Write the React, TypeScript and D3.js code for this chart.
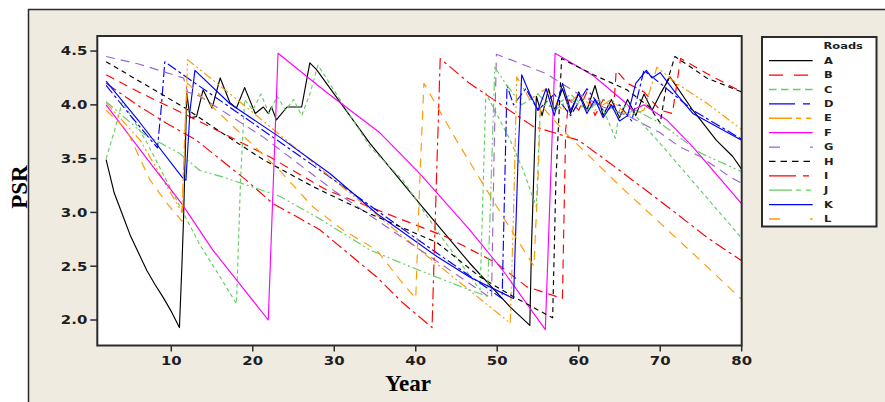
import { useEffect, useRef } from "react";
import * as d3 from "d3";

type Pt = [number, number];

// road names shown in the legend
const roadNames = ["A", "B", "C", "D", "E", "F", "G", "H", "I", "J", "K", "L"];

// [year, PSR]
const roadA: Pt[] = [[2, 3.49], [3, 3.18], [4, 2.98], [5, 2.78], [6, 2.62], [7, 2.46], [8, 2.33], [9, 2.21], [10, 2.08], [11, 1.93], [11.3, 2.5], [11.5, 2.93], [11.9, 4.11], [12.3, 3.88], [13.1, 3.89], [13.9, 4.14], [15, 3.97], [16, 4.25], [17.2, 4.02], [18, 3.97], [19, 4.16], [20.3, 3.92], [21.3, 3.98], [21.9, 3.92], [22.3, 3.98], [22.9, 3.86], [24.2, 3.98], [26, 3.98], [27, 4.39], [27.8, 4.33], [30, 4.1], [34.4, 3.64], [40.5, 3.08], [46.6, 2.53], [51.6, 2.12], [54, 1.95], [54.2, 2.68], [54.8, 4.08], [55.5, 3.9], [56.3, 4.15], [57, 3.95], [58, 4.15], [59, 3.92], [60, 4.12], [61, 3.95], [62, 4.18], [63, 3.9], [64, 4.05], [65, 3.88], [66, 4.05], [67, 3.9], [68, 4.1], [69, 3.95], [70, 4.1], [71.2, 4.26], [74, 3.95], [76.9, 3.67], [78.9, 3.52], [80, 3.4]];
const roadB: Pt[] = [[2, 4.28], [6, 4.12], [12, 3.9], [22, 3.52], [29, 3.21], [34.4, 3.05], [43.8, 2.77], [49.9, 2.53], [53.6, 2.31], [58, 2.2], [58.4, 3.77], [58.8, 4.05], [60, 3.95], [61, 4.12], [62, 3.9], [63, 4.05], [64.3, 3.98], [64.6, 4.32], [66, 4.2], [68, 4.12], [70, 3.95], [71.5, 3.92], [72.5, 4.43], [76, 4.28], [80, 4.12]];
const roadC: Pt[] = [[2, 3.5], [3, 3.75], [4, 4.03], [7, 3.65], [11.3, 3.02], [13.5, 2.7], [16, 2.4], [18, 2.15], [18.5, 3.3], [19, 4.05], [20, 3.95], [21, 4.1], [22, 3.92], [23, 4.08], [24, 3.95], [25, 4.05], [26, 3.9], [27, 4.1], [28, 4.37], [34.4, 3.61], [38.4, 3.3], [42.5, 2.84], [47.9, 2.28], [48.3, 3.3], [48.6, 4.11], [51.6, 3.67], [53.2, 3.39], [54.8, 3.05], [55.3, 4.0], [57, 3.98], [59, 4.1], [61, 3.95], [62.5, 4.05], [64.5, 3.69], [65, 3.95], [66, 4.0], [67.5, 3.85], [70, 3.64], [75, 3.2], [80, 2.76]];
const roadD: Pt[] = [[2, 4.18], [5, 3.9], [8.3, 3.6], [8.8, 4.0], [9.2, 4.4], [12, 4.25], [20, 3.83], [30, 3.3], [40, 2.76], [50.6, 2.2], [50.9, 3.2], [51.2, 4.18], [52, 4.0], [53.5, 4.15], [55, 3.95], [57, 4.1], [59, 3.9], [61, 4.15], [63, 3.95], [65, 4.0], [66.5, 3.85], [68, 4.32], [70, 4.2], [74, 3.95], [80, 3.68]];
const roadE: Pt[] = [[2, 4.02], [6.2, 3.67], [11.3, 3.0], [11.6, 3.6], [12, 4.42], [20, 3.93], [30, 3.3], [40, 2.68], [51.6, 1.97], [52, 3.0], [52.4, 4.26], [54, 4.05], [56, 4.15], [58, 3.95], [60, 4.1], [62, 3.95], [64, 4.05], [66, 3.9], [68, 3.95], [69.6, 4.35], [72, 4.2], [76, 4.0], [80, 3.77]];
const roadF: Pt[] = [[2, 4.0], [7.4, 3.46], [11.3, 3.08], [15.1, 2.65], [21.9, 2.0], [23.1, 4.48], [29, 4.12], [35.6, 3.74], [40.5, 3.36], [46.6, 2.84], [50.7, 2.46], [55.9, 1.91], [57.1, 4.48], [61.8, 4.27], [65.9, 4.01], [66.5, 3.95], [68, 4.0], [70.8, 3.86], [74, 3.61], [80, 3.08]];
const roadG: Pt[] = [[2, 4.45], [6, 4.38], [11.5, 4.25], [12, 4.12], [13.5, 4.08], [21.3, 3.7], [30, 3.2], [40, 2.68], [49.3, 2.2], [49.6, 3.5], [49.9, 4.47], [53, 4.38], [56, 4.29], [60, 4.1], [63, 3.98], [66, 3.9], [70, 3.74], [72.4, 3.61], [74.9, 3.52], [78.6, 3.33], [80, 3.27]];
const roadH: Pt[] = [[2, 4.4], [7, 4.18], [11.7, 3.97], [16, 3.75], [21.3, 3.49], [27.4, 3.24], [34, 3.0], [42.6, 2.72], [47.9, 2.4], [51.9, 2.22], [56.8, 2.02], [57.2, 3.3], [57.9, 4.43], [61.8, 4.28], [65.9, 4.14], [68.7, 3.98], [70, 3.83], [70.8, 4.2], [71.8, 4.45], [75.7, 4.25], [80, 4.12]];
const roadI: Pt[] = [[2, 4.2], [6.2, 3.98], [9.4, 3.83], [13.1, 3.67], [19.2, 3.3], [22.5, 3.08], [25.4, 2.96], [28.2, 2.84], [35.2, 2.4], [38.4, 2.16], [42, 1.93], [42.5, 3.2], [43, 4.43], [46.6, 4.2], [50.7, 3.99], [54.4, 3.8], [57, 3.74], [60, 3.67], [63.8, 3.46], [68.7, 3.18], [72, 2.99], [75.7, 2.77], [80, 2.55]];
const roadJ: Pt[] = [[2, 4.03], [6.6, 3.73], [11, 3.55], [13.5, 3.39], [16.3, 3.33], [23.3, 3.15], [28, 2.95], [34.4, 2.65], [40.5, 2.46], [46.6, 2.28], [48.8, 2.22], [49.3, 3.4], [49.7, 4.35], [51, 4.2], [53, 4.0], [55, 4.1], [57, 3.95], [59, 4.05], [61, 3.95], [63, 4.05], [65, 3.9], [67, 3.95], [70, 3.83], [75, 3.55], [80, 3.38]];
const roadK: Pt[] = [[2, 4.22], [6, 3.85], [11.3, 3.33], [11.8, 3.3], [12.3, 3.95], [12.9, 4.32], [17.2, 4.01], [23.3, 3.7], [29.5, 3.36], [35.2, 2.99], [42.6, 2.59], [46.6, 2.4], [52, 2.2], [52.6, 3.6], [53, 4.28], [54, 4.1], [55, 3.95], [56, 4.15], [57, 3.9], [58, 4.2], [59, 3.95], [60, 4.1], [61, 3.92], [62, 4.05], [63, 3.88], [64, 4.0], [65, 3.85], [66, 3.9], [67, 4.2], [68.3, 4.32], [69, 4.25], [70, 4.3], [72, 4.1], [74, 3.92], [80, 3.67]];
const roadL: Pt[] = [[2, 3.95], [4.5, 3.77], [7.4, 3.3], [9.4, 3.09], [11.3, 2.92], [11.7, 3.8], [12, 4.2], [23.3, 3.39], [27.4, 3.05], [31, 2.84], [35.2, 2.65], [38.4, 2.34], [40, 2.2], [40.5, 3.3], [41, 4.2], [45, 3.67], [50.7, 2.96], [54.5, 2.5], [55, 3.3], [55.3, 4.0], [58.5, 3.73], [65, 3.25], [70, 2.9], [75, 2.55], [80, 2.19]];

const roadData = [roadA, roadB, roadC, roadD, roadE, roadF, roadG, roadH, roadI, roadJ, roadK, roadL];

const xTicks = [10, 20, 30, 40, 50, 60, 70, 80];
const yTicks = [2.0, 2.5, 3.0, 3.5, 4.0, 4.5];

const lineColors = ["#000000", "#ff0000", "#66cc66", "#0000ff", "#ff9900", "#ff00ff", "#9966cc", "#000000", "#ff0000", "#66cc66", "#0000ff", "#ff9900"];
const plotDash = ["", "9,6", "4,3", "10,3,3,3", "9,3,2,3,2,3", "", "9,6", "5,4", "12,4,3,4", "9,3,2,3,2,3", "", "9,7"];
const legendDash = ["", "14,11", "7.5,4.5", "26,8,7,8", "23,4,5,5,5,4", "", "11,30,14,11", "6.5,5", "27,7,6,7", "23,4,5,5,5,4", "", "11,30,14,11"];

export default function App() {
  const svgRef = useRef<SVGSVGElement>(null);

  useEffect(() => {
    if (!svgRef.current) return;
    const svg = d3.select(svgRef.current);
    svg.selectAll("*").remove();

    const left = 97.3, right = 741.7, top = 36, bottom = 345.5;
    const x = d3.scaleLinear().domain([0.92, 80]).range([left, right]);
    const y = d3.scaleLinear().domain([1.763, 4.64]).range([bottom, top]);
    const tickFont = "'DejaVu Sans', Verdana, sans-serif";

    // page frame
    svg.append("rect").attr("width", 885).attr("height", 402).attr("fill", "#ffffff");
    svg.append("rect")
      .attr("x", 28.5).attr("y", 9.5).attr("width", 900).attr("height", 400)
      .attr("fill", "#efebe1").attr("stroke", "#2a2a2a").attr("stroke-width", 1.5);

    // plot area
    svg.append("rect")
      .attr("x", left).attr("y", top).attr("width", right - left).attr("height", bottom - top)
      .attr("fill", "#ffffff");

    svg.append("clipPath").attr("id", "plotClip")
      .append("rect").attr("x", left).attr("y", top).attr("width", right - left).attr("height", bottom - top);

    const line = d3.line<Pt>().x((d) => x(d[0])).y((d) => y(d[1]));
    const lines = svg.append("g").attr("clip-path", "url(#plotClip)");
    roadData.forEach((pts, i) => {
      lines.append("path")
        .attr("d", line(pts))
        .attr("fill", "none")
        .attr("stroke", lineColors[i])
        .attr("stroke-width", 1.15)
        .attr("stroke-dasharray", plotDash[i] || null)
        .attr("stroke-linejoin", "round");
    });

    svg.append("rect")
      .attr("x", left).attr("y", top).attr("width", right - left).attr("height", bottom - top)
      .attr("fill", "none").attr("stroke", "#2b2b2b").attr("stroke-width", 2);

    // y axis
    const yAxis = svg.append("g");
    yTicks.forEach((t) => {
      yAxis.append("line")
        .attr("x1", left - 7).attr("x2", left).attr("y1", y(t)).attr("y2", y(t))
        .attr("stroke", "#2b2b2b").attr("stroke-width", 1.5);
      yAxis.append("text")
        .attr("transform", `translate(${left - 10},${y(t) + 4.3}) scale(1.3,1)`)
        .attr("text-anchor", "end")
        .attr("font-family", tickFont).attr("font-weight", "bold").attr("font-size", 11.5)
        .attr("fill", "#1e1e1e")
        .text(t.toFixed(1));
    });

    // x axis
    const xAxis = svg.append("g");
    xTicks.forEach((t) => {
      xAxis.append("line")
        .attr("x1", x(t)).attr("x2", x(t)).attr("y1", bottom).attr("y2", bottom + 6)
        .attr("stroke", "#2b2b2b").attr("stroke-width", 1.5);
      xAxis.append("text")
        .attr("transform", `translate(${x(t)},${bottom + 19.5}) scale(1.3,1)`)
        .attr("text-anchor", "middle")
        .attr("font-family", tickFont).attr("font-weight", "bold").attr("font-size", 11.5)
        .attr("fill", "#1e1e1e")
        .text(t);
    });

    // axis titles
    svg.append("text")
      .attr("transform", "translate(27,187) rotate(-90)")
      .attr("text-anchor", "middle")
      .attr("font-family", "'Liberation Serif', 'Times New Roman', serif")
      .attr("font-weight", "bold").attr("font-size", 23)
      .text("PSR");
    svg.append("text")
      .attr("x", 408).attr("y", 391)
      .attr("text-anchor", "middle")
      .attr("font-family", "'Liberation Serif', 'Times New Roman', serif")
      .attr("font-weight", "bold").attr("font-size", 23)
      .text("Year");

    // legend
    const lg = svg.append("g");
    lg.append("rect")
      .attr("x", 762).attr("y", 37).attr("width", 114.5).attr("height", 189.5)
      .attr("fill", "#ffffff").attr("stroke", "#2b2b2b").attr("stroke-width", 2);
    lg.append("text")
      .attr("transform", "translate(823.5,49) scale(1.35,1)")
      .attr("font-family", tickFont).attr("font-weight", "bold").attr("font-size", 8.5)
      .attr("fill", "#1e1e1e")
      .text("Roads");
    const ly = d3.scaleLinear().domain([0, roadNames.length - 1]).range([60.7, 219]);
    roadNames.forEach((name, i) => {
      lg.append("line")
        .attr("x1", 769).attr("x2", 812.7).attr("y1", ly(i)).attr("y2", ly(i))
        .attr("stroke", lineColors[i]).attr("stroke-width", 1.3)
        .attr("stroke-dasharray", legendDash[i] || null);
      lg.append("text")
        .attr("transform", `translate(824,${ly(i) + 3.2}) scale(1.35,1)`)
        .attr("font-family", tickFont).attr("font-weight", "bold").attr("font-size", 8.5)
        .attr("fill", "#1e1e1e")
        .text(name);
    });
  }, []);

  return (
    <svg
      ref={svgRef}
      width={885}
      height={402}
      style={{ position: "absolute", left: 0, top: 0 }}
    />
  );
}
